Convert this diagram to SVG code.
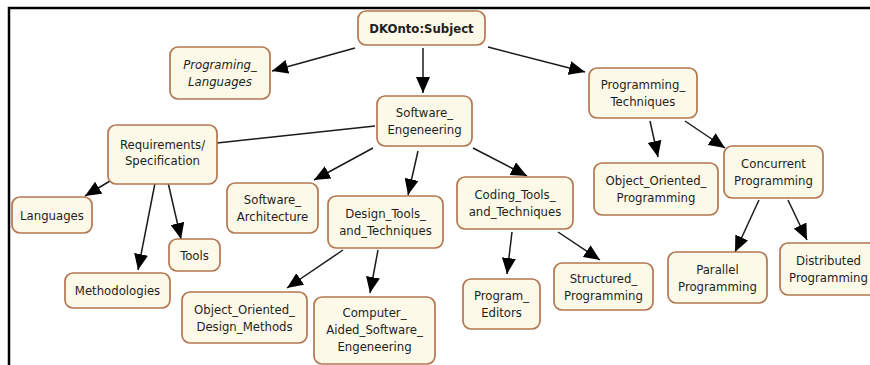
<svg xmlns="http://www.w3.org/2000/svg" width="870" height="365" viewBox="0 0 870 365">
  <style>
    .node rect { fill: #fdf9e8; stroke: #b27752; stroke-width: 1.7; }
    .node text { font-family: "DejaVu Sans Condensed", "DejaVu Sans", Verdana, sans-serif; font-stretch: condensed; font-size: 13px; fill: #1e1e1e; text-anchor: middle; }
    .node text.bold { font-weight: bold; }
    .node text.ital { font-style: italic; }
    .edges line { stroke: #1a1a1a; stroke-width: 1.5; }
    .frame { fill: none; stroke: #000; stroke-width: 2.5; }
  </style>
  <defs>
    <marker id="arrow" markerUnits="userSpaceOnUse" markerWidth="16" markerHeight="14" refX="16" refY="7" orient="auto">
      <path d="M0,0 L16,7 L0,14 Z" fill="#000"/>
    </marker>
  </defs>

  <rect width="870" height="365" fill="#fff"/>
  <path class="frame" d="M9,365 V8 H870"/>

  <g class="edges">
    <line x1="355" y1="48" x2="272" y2="71" marker-end="url(#arrow)"/>
    <line x1="423" y1="48" x2="423" y2="93" marker-end="url(#arrow)"/>
    <line x1="488" y1="47" x2="585" y2="72" marker-end="url(#arrow)"/>
    <line x1="375" y1="126" x2="217" y2="143"/>
    <line x1="373" y1="148" x2="314" y2="180" marker-end="url(#arrow)"/>
    <line x1="418" y1="151" x2="408" y2="195" marker-end="url(#arrow)"/>
    <line x1="473" y1="148" x2="527" y2="176" marker-end="url(#arrow)"/>
    <line x1="650" y1="121" x2="658" y2="157" marker-end="url(#arrow)"/>
    <line x1="685" y1="121" x2="725" y2="148" marker-end="url(#arrow)"/>
    <line x1="115" y1="178" x2="85" y2="196" marker-end="url(#arrow)"/>
    <line x1="156" y1="178" x2="138" y2="270" marker-end="url(#arrow)"/>
    <line x1="167" y1="178" x2="181" y2="239" marker-end="url(#arrow)"/>
    <line x1="343" y1="250" x2="287" y2="288" marker-end="url(#arrow)"/>
    <line x1="378" y1="250" x2="370" y2="293" marker-end="url(#arrow)"/>
    <line x1="512" y1="232" x2="507" y2="274" marker-end="url(#arrow)"/>
    <line x1="558" y1="232" x2="600" y2="260" marker-end="url(#arrow)"/>
    <line x1="759" y1="200" x2="735" y2="252" marker-end="url(#arrow)"/>
    <line x1="788" y1="200" x2="807" y2="240" marker-end="url(#arrow)"/>
  </g>

  <g id="subject" class="node">
    <rect x="358" y="11" width="127" height="34" rx="8"/>
    <text class="bold" x="421.5" y="32.5">DKOnto:Subject</text>
  </g>
  <g id="programing-languages" class="node">
    <rect x="170" y="47" width="100" height="52" rx="8"/>
    <text class="ital" x="220" y="69">Programing_</text>
    <text class="ital" x="220" y="86">Languages</text>
  </g>
  <g id="software-engeneering" class="node">
    <rect x="377" y="96" width="95" height="50" rx="8"/>
    <text x="424.5" y="117">Software_</text>
    <text x="424.5" y="134">Engeneering</text>
  </g>
  <g id="programming-techniques" class="node">
    <rect x="589" y="68" width="108" height="50" rx="8"/>
    <text x="643" y="89">Programming_</text>
    <text x="643" y="106">Techniques</text>
  </g>
  <g id="requirements" class="node">
    <rect x="108" y="125" width="109" height="59" rx="8"/>
    <text x="162.5" y="148.5">Requirements/</text>
    <text x="162.5" y="165">Specification</text>
  </g>
  <g id="languages" class="node">
    <rect x="12" y="197" width="80" height="36" rx="8"/>
    <text x="52" y="219.5">Languages</text>
  </g>
  <g id="software-architecture" class="node">
    <rect x="227" y="183" width="91" height="50" rx="8"/>
    <text x="272.5" y="204">Software_</text>
    <text x="272.5" y="221">Architecture</text>
  </g>
  <g id="design-tools" class="node">
    <rect x="328" y="196" width="115" height="52" rx="8"/>
    <text x="385.5" y="218">Design_Tools_</text>
    <text x="385.5" y="235">and_Techniques</text>
  </g>
  <g id="coding-tools" class="node">
    <rect x="457" y="177" width="116" height="52" rx="8"/>
    <text x="515" y="199">Coding_Tools_</text>
    <text x="515" y="216">and_Techniques</text>
  </g>
  <g id="object-oriented-programming" class="node">
    <rect x="594" y="163" width="124" height="52" rx="8"/>
    <text x="656" y="185">Object_Oriented_</text>
    <text x="656" y="202">Programming</text>
  </g>
  <g id="concurrent-programming" class="node">
    <rect x="724" y="146" width="99" height="52" rx="8"/>
    <text x="773.5" y="168">Concurrent</text>
    <text x="773.5" y="185">Programming</text>
  </g>
  <g id="parallel-programming" class="node">
    <rect x="668" y="252" width="99" height="51" rx="8"/>
    <text x="717.5" y="273.5">Parallel</text>
    <text x="717.5" y="290.5">Programming</text>
  </g>
  <g id="distributed-programming" class="node">
    <rect x="780" y="243" width="97" height="52" rx="8"/>
    <text x="828.5" y="265">Distributed</text>
    <text x="828.5" y="282">Programming</text>
  </g>
  <g id="tools" class="node">
    <rect x="169" y="239" width="51" height="32" rx="8"/>
    <text x="194.5" y="259.5">Tools</text>
  </g>
  <g id="methodologies" class="node">
    <rect x="65" y="273" width="105" height="35" rx="8"/>
    <text x="117.5" y="295">Methodologies</text>
  </g>
  <g id="object-oriented-design" class="node">
    <rect x="182" y="292" width="125" height="51" rx="8"/>
    <text x="244.5" y="313.5">Object_Oriented_</text>
    <text x="244.5" y="330.5">Design_Methods</text>
  </g>
  <g id="case" class="node">
    <rect x="314" y="297" width="121" height="67" rx="8"/>
    <text x="374.5" y="316.5">Computer_</text>
    <text x="374.5" y="333.5">Aided_Software_</text>
    <text x="374.5" y="350.5">Engeneering</text>
  </g>
  <g id="program-editors" class="node">
    <rect x="463" y="279" width="77" height="50" rx="8"/>
    <text x="501.5" y="300">Program_</text>
    <text x="501.5" y="317">Editors</text>
  </g>
  <g id="structured-programming" class="node">
    <rect x="554" y="263" width="99" height="47" rx="8"/>
    <text x="603.5" y="282.5">Structured_</text>
    <text x="603.5" y="299.5">Programming</text>
  </g>
</svg>
